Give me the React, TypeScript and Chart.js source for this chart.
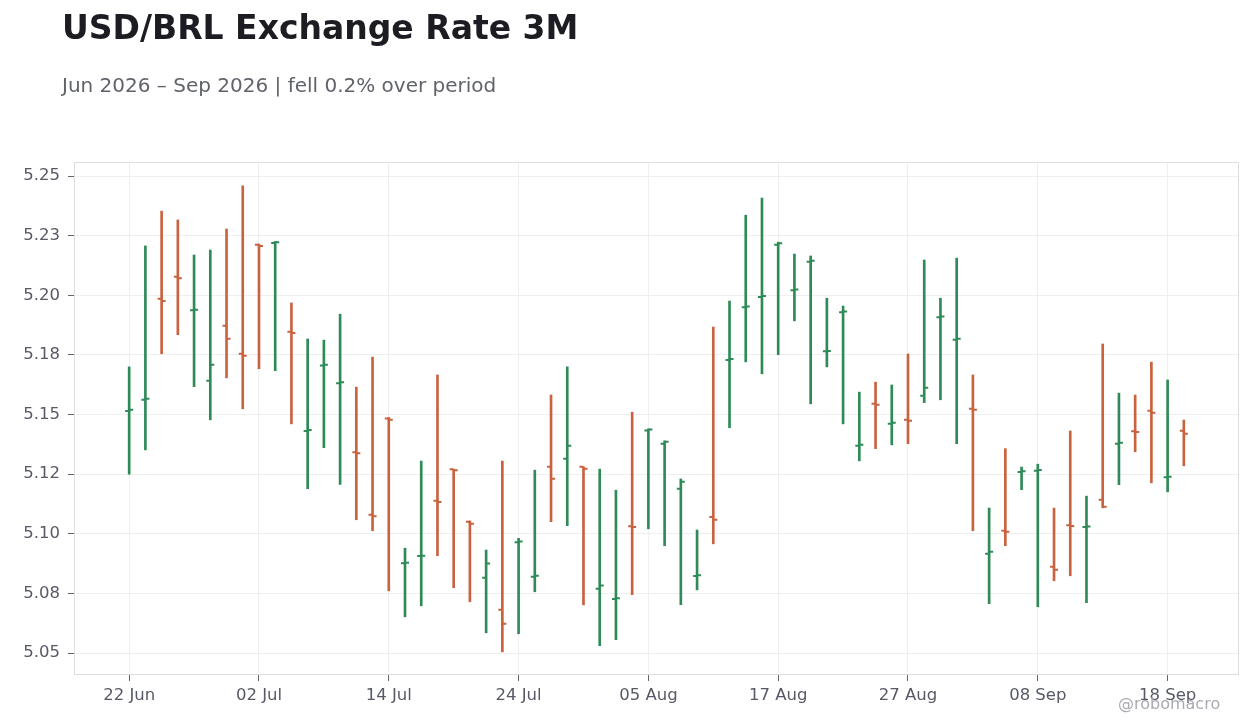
import React, { useEffect, useRef } from 'react';
import { Chart, registerables } from 'chart.js';

Chart.register(...registerables);

// business days, 22 Jun 2026 -> 21 Sep 2026
const dates = [
  '22 Jun', '23 Jun', '24 Jun', '25 Jun', '26 Jun', '29 Jun', '30 Jun',
  '01 Jul', '02 Jul', '03 Jul', '06 Jul', '07 Jul', '08 Jul', '09 Jul', '10 Jul',
  '13 Jul', '14 Jul', '15 Jul', '16 Jul', '17 Jul', '20 Jul', '21 Jul', '22 Jul',
  '23 Jul', '24 Jul', '27 Jul', '28 Jul', '29 Jul', '30 Jul', '31 Jul',
  '03 Aug', '04 Aug', '05 Aug', '06 Aug', '07 Aug', '10 Aug', '11 Aug', '12 Aug',
  '13 Aug', '14 Aug', '17 Aug', '18 Aug', '19 Aug', '20 Aug', '21 Aug', '24 Aug',
  '25 Aug', '26 Aug', '27 Aug', '28 Aug', '31 Aug',
  '01 Sep', '02 Sep', '03 Sep', '04 Sep', '07 Sep', '08 Sep', '09 Sep', '10 Sep',
  '11 Sep', '14 Sep', '15 Sep', '16 Sep', '17 Sep', '18 Sep', '21 Sep',
];

const open = [
  5.1515, 5.1562, 5.1986, 5.2078, 5.1937, 5.1642, 5.1872, 5.1755, 5.2212, 5.2219,
  5.1847, 5.1431, 5.1706, 5.1631, 5.1342, 5.1080, 5.1484, 5.0877, 5.0907, 5.1139,
  5.1271, 5.1051, 5.0816, 5.0682, 5.0965, 5.0820, 5.1281, 5.1315, 5.1281, 5.0770,
  5.0727, 5.1032, 5.1433, 5.1378, 5.1189, 5.0823, 5.1071, 5.1729, 5.1950, 5.1993,
  5.2212, 5.2021, 5.2141, 5.1765, 5.1929, 5.1369, 5.1545, 5.1461, 5.1478, 5.1579,
  5.1908, 5.1814, 5.1524, 5.0916, 5.1013, 5.1259, 5.1264, 5.0862, 5.1036, 5.1029,
  5.1143, 5.1378, 5.1430, 5.1516, 5.1237, 5.1432,
];

const high = [
  5.1700, 5.2207, 5.2353, 5.2316, 5.2169, 5.2190, 5.2278, 5.2459, 5.2215, 5.2226,
  5.1968, 5.1817, 5.1812, 5.1921, 5.1615, 5.1741, 5.1488, 5.0940, 5.1305, 5.1666,
  5.1271, 5.1054, 5.0932, 5.1305, 5.0981, 5.1267, 5.1582, 5.1700, 5.1281, 5.1271,
  5.1183, 5.1510, 5.1440, 5.1390, 5.1230, 5.1016, 5.1867, 5.1976, 5.2336, 5.2408,
  5.2223, 5.2173, 5.2165, 5.1988, 5.1955, 5.1594, 5.1636, 5.1624, 5.1754, 5.2148,
  5.1988, 5.2156, 5.1666, 5.1108, 5.1357, 5.1280, 5.1292, 5.1108, 5.1431, 5.1158,
  5.1796, 5.1590, 5.1582, 5.1720, 5.1645, 5.1477,
];

const low = [
  5.1250, 5.1352, 5.1755, 5.1835, 5.1617, 5.1478, 5.1654, 5.1524, 5.1692, 5.1684,
  5.1461, 5.1189, 5.1361, 5.1207, 5.1059, 5.1013, 5.0761, 5.0652, 5.0698, 5.0908,
  5.0774, 5.0715, 5.0585, 5.0505, 5.0581, 5.0757, 5.1051, 5.1034, 5.0702, 5.0531,
  5.0556, 5.0745, 5.1021, 5.0950, 5.0703, 5.0765, 5.0958, 5.1445, 5.1721, 5.1671,
  5.1751, 5.1893, 5.1545, 5.1700, 5.1461, 5.1306, 5.1357, 5.1373, 5.1378, 5.1550,
  5.1562, 5.1378, 5.1013, 5.0707, 5.0950, 5.1185, 5.0694, 5.0803, 5.0824, 5.0711,
  5.1109, 5.1206, 5.1344, 5.1214, 5.1176, 5.1285,
];

const close = [
  5.1520, 5.1566, 5.1976, 5.2072, 5.1940, 5.1709, 5.1818, 5.1747, 5.2207, 5.2222,
  5.1842, 5.1435, 5.1709, 5.1635, 5.1338, 5.1074, 5.1478, 5.0879, 5.0908, 5.1133,
  5.1267, 5.1042, 5.0875, 5.0623, 5.0968, 5.0824, 5.1231, 5.1369, 5.1273, 5.0783,
  5.0730, 5.1029, 5.1437, 5.1386, 5.1218, 5.0826, 5.1059, 5.1733, 5.1953, 5.1997,
  5.2218, 5.2024, 5.2145, 5.1767, 5.1932, 5.1373, 5.1541, 5.1466, 5.1474, 5.1612,
  5.1911, 5.1818, 5.1520, 5.0925, 5.1009, 5.1262, 5.1268, 5.0849, 5.1033, 5.1031,
  5.1113, 5.1382, 5.1427, 5.1508, 5.1239, 5.1420,
];

const xTickIdx = [0, 8, 16, 24, 32, 40, 48, 56, 64];
const yTicks = [5.05, 5.075, 5.1, 5.125, 5.15, 5.175, 5.2, 5.225, 5.25];
const yTickLabels = ['5.05', '5.08', '5.10', '5.12', '5.15', '5.18', '5.20', '5.23', '5.25'];

const UP = '#2e8b57';
const DOWN = '#c9623f';
const FONT = "'DejaVu Sans', sans-serif";

const colorAt = (i: number) => (close[i] >= open[i] ? UP : DOWN);

// open tick on the left, close tick on the right, plus the frame round the plot
const ohlcTicks = {
  id: 'ohlcTicks',
  beforeDatasetsDraw(chart: any) {
    const { ctx, chartArea } = chart;
    ctx.save();
    ctx.strokeStyle = '#dedede';
    ctx.lineWidth = 1;
    ctx.strokeRect(chartArea.left + 0.5, chartArea.top + 0.5, chartArea.width - 1, chartArea.height - 1);
    ctx.restore();
  },
  afterDatasetsDraw(chart: any) {
    const { ctx } = chart;
    const xs = chart.scales.x;
    const ys = chart.scales.y;
    ctx.save();
    ctx.lineWidth = 2;
    for (let i = 0; i < dates.length; i++) {
      const x = xs.getPixelForValue(i);
      const yo = ys.getPixelForValue(open[i]);
      const yc = ys.getPixelForValue(close[i]);
      ctx.strokeStyle = colorAt(i);
      ctx.beginPath();
      ctx.moveTo(x - 4, yo);
      ctx.lineTo(x, yo);
      ctx.moveTo(x, yc);
      ctx.lineTo(x + 4, yc);
      ctx.stroke();
    }
    ctx.restore();
  },
};

const App: React.FC = () => {
  const canvasRef = useRef<HTMLCanvasElement | null>(null);

  useEffect(() => {
    if (!canvasRef.current) return;
    const chart = new Chart(canvasRef.current, {
      type: 'bar',
      data: {
        datasets: [
          {
            label: 'USD/BRL',
            data: dates.map((_, i) => ({ x: i, y: [low[i], high[i]] })) as any,
            backgroundColor: dates.map((_, i) => colorAt(i)),
            borderWidth: 0,
            borderSkipped: false,
            barThickness: 2,
          },
        ],
      },
      options: {
        animation: false,
        responsive: true,
        maintainAspectRatio: false,
        layout: { padding: { left: 0, top: 162, right: 21, bottom: 0 } },
        plugins: {
          legend: { display: false },
          tooltip: { enabled: false },
        },
        scales: {
          x: {
            type: 'linear',
            offset: false,
            min: -3.4,
            max: 68.4,
            afterBuildTicks: (scale: any) => {
              scale.ticks = xTickIdx.map((v) => ({ value: v }));
            },
            afterFit: (scale: any) => {
              scale.height = 53;
            },
            grid: { color: '#efefef', tickLength: 6, tickColor: '#666', offset: false },
            border: { display: false },
            ticks: {
              color: '#575a66',
              font: { family: FONT, size: 16.5 },
              padding: 5,
              maxRotation: 0,
              callback: (v: any) => dates[v as number] ?? '',
            },
          },
          y: {
            min: 5.0408,
            max: 5.2559,
            afterBuildTicks: (scale: any) => {
              scale.ticks = yTicks.map((v) => ({ value: v }));
            },
            afterFit: (scale: any) => {
              scale.width = 74;
            },
            grid: { color: '#efefef', tickLength: 6, tickColor: '#666' },
            border: { display: false },
            ticks: {
              color: '#575a66',
              font: { family: FONT, size: 16.5 },
              padding: 8,
              callback: (v: any) => {
                const k = yTicks.findIndex((t) => Math.abs(t - Number(v)) < 1e-6);
                return k >= 0 ? yTickLabels[k] : '';
              },
            },
          },
        },
      },
      plugins: [ohlcTicks],
    });
    return () => chart.destroy();
  }, []);

  return (
    <div style={{ position: 'absolute', left: 0, top: 0, width: 1260, height: 728, background: '#fff', fontFamily: FONT }}>
      <div style={{ position: 'absolute', left: 0, top: 0, width: 1260, height: 728 }}>
        <canvas ref={canvasRef} />
      </div>
      <div style={{ position: 'absolute', left: 62, top: 12, fontSize: 33, lineHeight: '32px', fontWeight: 'bold', color: '#1c1c22', whiteSpace: 'nowrap' }}>
        USD/BRL Exchange Rate 3M
      </div>
      <div style={{ position: 'absolute', left: 62, top: 75, fontSize: 20, lineHeight: '20px', color: '#60636b', whiteSpace: 'nowrap' }}>
        Jun 2026 – Sep 2026 | fell 0.2% over period
      </div>
      <div style={{ position: 'absolute', left: 1118, top: 696, fontSize: 16, lineHeight: '16px', color: '#a9aab2', whiteSpace: 'nowrap' }}>
        @robomacro
      </div>
    </div>
  );
};

export default App;
